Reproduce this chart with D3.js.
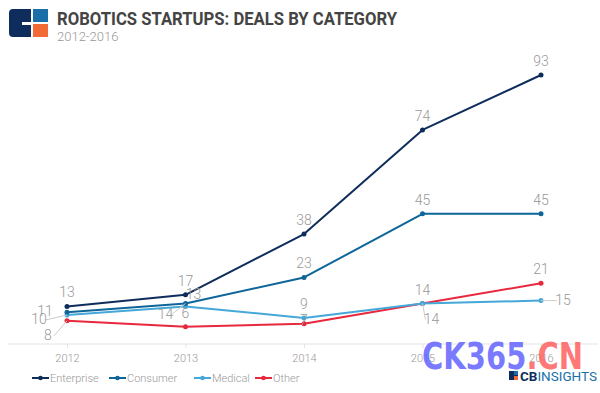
<!DOCTYPE html>
<html>
<head>
<meta charset="utf-8">
<script src="https://cdn.jsdelivr.net/npm/d3@7"></script>
<style>
  body { margin: 0; background: #fff; }
  svg { display: block; font-family: Roboto, "Noto Sans", sans-serif; }
</style>
</head>
<body>
<div id="chart"></div>
<script>
var years = ["2012", "2013", "2014", "2015", "2016"];
var enterprise = [13, 17, 38, 74, 93];
var consumer = [11, 14, 23, 45, 45];
var medical = [10, 13, 9, 14, 15];
var other = [8, 6, 7, 14, 21];
var seriesNames = ["Enterprise", "Consumer", "Medical", "Other"];
var seriesColors = ["#0f2d5c", "#0e6599", "#45a8d8", "#e8283c"];

var width = 600, height = 393;
var svg = d3.select("#chart").append("svg")
  .attr("width", width)
  .attr("height", height);

var x = d3.scalePoint().domain(years).range([67, 541]);
var y = d3.scaleLinear().domain([0, 93]).range([344, 75]);

// header logo
var logo = svg.append("g").attr("transform", "translate(9,9)");
logo.append("rect").attr("width", 39).attr("height", 28).attr("rx", 4).attr("fill", "#0f2d5c");
logo.append("rect").attr("x", 24).attr("width", 15).attr("height", 13).attr("fill", "#1a6fa8");
logo.append("rect").attr("x", 24).attr("y", 15).attr("width", 15).attr("height", 13).attr("fill", "#f26a35");
logo.append("rect").attr("x", 13).attr("y", 13).attr("width", 11).attr("height", 3).attr("fill", "#fff");
logo.append("rect").attr("x", 22).attr("width", 2).attr("height", 28).attr("fill", "#fff");
logo.append("rect").attr("x", 24).attr("y", 13).attr("width", 15).attr("height", 2).attr("fill", "#fff");

svg.append("text")
  .attr("x", 57).attr("y", 25)
  .attr("font-size", "19px").attr("font-weight", "bold")
  .attr("fill", "#444")
  .attr("textLength", 340).attr("lengthAdjust", "spacingAndGlyphs")
  .text("ROBOTICS STARTUPS: DEALS BY CATEGORY");

svg.append("text")
  .attr("x", 57).attr("y", 41)
  .attr("font-size", "13px").attr("font-weight", 300)
  .attr("fill", "#999")
  .text("2012-2016");

// baseline axis
svg.append("line")
  .attr("x1", 8).attr("x2", 598)
  .attr("y1", y(0)).attr("y2", y(0))
  .attr("stroke", "#ececec").attr("stroke-width", 1.5);

var xAxis = svg.append("g")
  .attr("transform", "translate(0," + y(0) + ")")
  .call(d3.axisBottom(x).tickSize(4).tickPadding(6));
xAxis.select(".domain").remove();
xAxis.selectAll(".tick line").attr("stroke", "#e4e4e4");
xAxis.selectAll(".tick text")
  .attr("fill", "#999")
  .style("font-size", "11px")
  .style("font-weight", 300)
  .style("font-family", "Roboto, sans-serif");

var data = [enterprise, consumer, medical, other];

var line = d3.line()
  .x(function (d, i) { return x(years[i]); })
  .y(function (d) { return y(d); });

// draw back to front so enterprise sits on top
[3, 2, 1, 0].forEach(function (s) {
  var g = svg.append("g");
  g.append("path")
    .datum(data[s])
    .attr("fill", "none")
    .attr("stroke", seriesColors[s])
    .attr("stroke-width", 2)
    .attr("stroke-linejoin", "round")
    .attr("d", line);
  g.selectAll("circle")
    .data(data[s])
    .enter().append("circle")
    .attr("cx", function (d, i) { return x(years[i]); })
    .attr("cy", function (d) { return y(d); })
    .attr("r", 2.5)
    .attr("fill", seriesColors[s]);
});

// label placement: [series, index, dx, dy, leader]
var labelMoves = [
  [1, 0, -22, 4, false],
  [2, 0, -28, 9, true],
  [3, 0, -19, 19, true],
  [1, 1, -20, 15, true],
  [2, 1, 8, -7, false],
  [3, 2, 0, 1, false],
  [2, 3, 9, 20, true],
  [2, 4, 22, 4, true]
];

data.forEach(function (vals, s) {
  vals.forEach(function (v, i) {
    var px = x(years[i]), py = y(v);
    var move = labelMoves.filter(function (m) { return m[0] === s && m[1] === i; })[0];
    var tx = px, ty = py - 9;
    if (move) {
      tx = px + move[2];
      ty = py + move[3];
      if (move[4]) {
        svg.append("line")
          .attr("x1", px).attr("y1", py)
          .attr("x2", tx + (move[2] < 0 ? 6 : -6)).attr("y2", ty - 4)
          .attr("stroke", "#ccc").attr("stroke-width", 1);
      }
    }
    svg.append("text")
      .attr("x", tx).attr("y", ty)
      .attr("text-anchor", "middle")
      .attr("fill", "#999")
      .attr("font-size", "14px")
      .attr("font-weight", 300)
      .text(v);
  });
});

// legend
var legendX = [32, 109, 194, 255];
var legend = svg.append("g");
seriesNames.forEach(function (name, s) {
  var lg = legend.append("g").attr("transform", "translate(" + legendX[s] + ",378)");
  lg.append("line").attr("x1", 0).attr("x2", 17)
    .attr("stroke", seriesColors[s]).attr("stroke-width", 2);
  lg.append("circle").attr("cx", 8.5).attr("r", 2.3).attr("fill", seriesColors[s]);
  lg.append("text").attr("x", 18).attr("y", 4)
    .attr("fill", "#999").attr("font-size", "11px").attr("font-weight", 300)
    .text(name);
});

// watermark
var wm = svg.append("text")
  .attr("x", 422).attr("y", 369)
  .attr("font-size", "37px").attr("font-weight", "900")
  .attr("font-family", "'DejaVu Sans', sans-serif")
  .attr("textLength", 161).attr("lengthAdjust", "spacingAndGlyphs");
wm.append("tspan").attr("fill", "#6262ff").attr("fill-opacity", 0.85).text("CK365");
wm.append("tspan").attr("fill", "#ff6060").attr("fill-opacity", 0.85).text(".CN");

// CB Insights mark
var cb = svg.append("g").attr("transform", "translate(509,371)");
cb.append("rect").attr("width", 9).attr("height", 9).attr("fill", "#0f2d5c");
cb.append("rect").attr("x", 5).attr("width", 4).attr("height", 4).attr("fill", "#1a6fa8");
cb.append("rect").attr("x", 5).attr("y", 5).attr("width", 4).attr("height", 4).attr("fill", "#f26a35");
var cbt = cb.append("text").attr("x", 11).attr("y", 10)
  .attr("font-size", "13px")
  .attr("textLength", 77).attr("lengthAdjust", "spacingAndGlyphs");
cbt.append("tspan").attr("fill", "#0f2d5c").attr("font-weight", "bold").text("CB");
cbt.append("tspan").attr("fill", "#1a6fa8").text("INSIGHTS");
</script>
</body>
</html>
